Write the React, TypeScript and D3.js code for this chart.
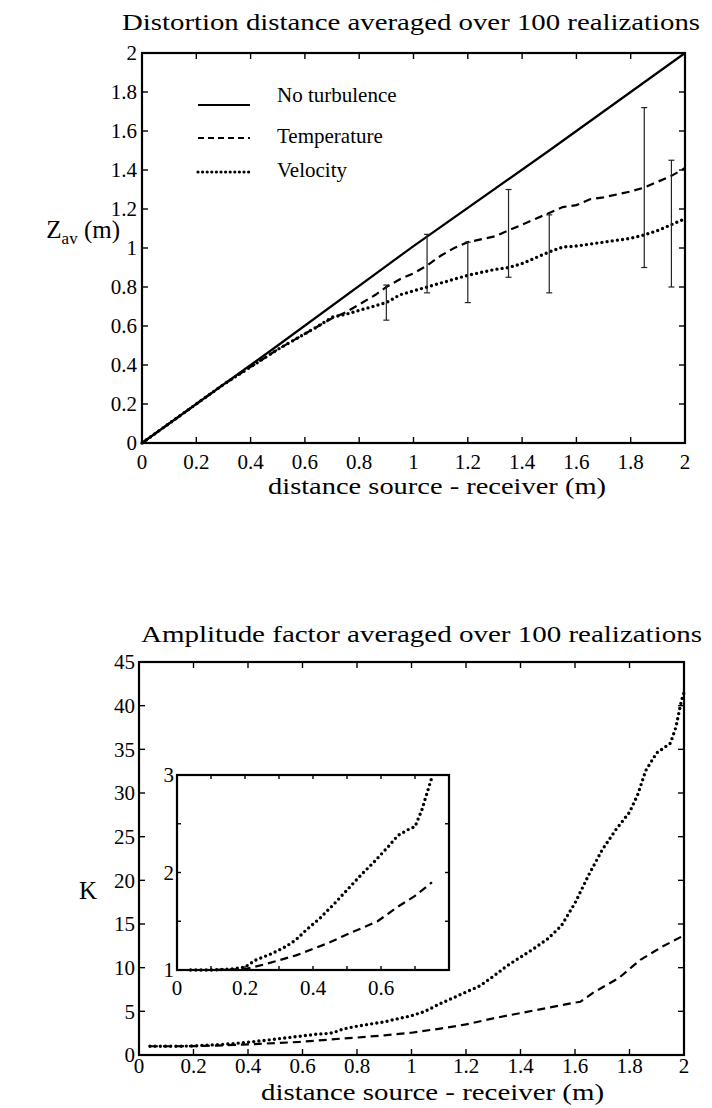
import React from 'react';
import * as d3 from 'd3';

const W = 712;
const H = 1108;
const FONT = 'Liberation Serif, Times New Roman, serif';

// ---- top panel: distortion distance ----
const distTicks = [0, 0.2, 0.4, 0.6, 0.8, 1, 1.2, 1.4, 1.6, 1.8, 2];
const distTickLabels = ['0', '0.2', '0.4', '0.6', '0.8', '1', '1.2', '1.4', '1.6', '1.8', '2'];

const noTurbulence: [number, number][] = [[0, 0], [0.5, 0.5], [1, 1.01], [1.5, 1.5], [2, 2]];
const temperatureDist: [number, number][] = [
  [0, 0], [0.1, 0.1], [0.2, 0.2], [0.3, 0.3], [0.4, 0.39], [0.5, 0.48], [0.6, 0.56], [0.7, 0.64],
  [0.75, 0.67], [0.8, 0.71], [0.86, 0.76], [0.9, 0.8], [0.95, 0.84], [1.0, 0.87], [1.05, 0.91],
  [1.1, 0.96], [1.15, 1.0], [1.2, 1.03], [1.3, 1.06], [1.35, 1.09], [1.4, 1.12], [1.45, 1.15],
  [1.5, 1.18], [1.55, 1.21], [1.6, 1.22], [1.65, 1.25], [1.7, 1.26], [1.8, 1.29], [1.85, 1.31],
  [1.9, 1.34], [1.95, 1.37], [2.0, 1.41],
];
const velocityDist: [number, number][] = [
  [0, 0], [0.1, 0.1], [0.2, 0.2], [0.3, 0.3], [0.4, 0.39], [0.5, 0.48], [0.6, 0.56], [0.65, 0.6],
  [0.7, 0.645], [0.75, 0.66], [0.8, 0.68], [0.85, 0.7], [0.9, 0.72], [0.95, 0.76], [1.0, 0.78],
  [1.05, 0.8], [1.1, 0.82], [1.15, 0.84], [1.2, 0.86], [1.3, 0.89], [1.35, 0.9], [1.4, 0.92],
  [1.45, 0.95], [1.5, 0.98], [1.55, 1.005], [1.6, 1.01], [1.7, 1.03], [1.8, 1.05], [1.85, 1.067],
  [1.9, 1.09], [1.95, 1.12], [2.0, 1.15],
];
const errX = [0.9, 1.05, 1.2, 1.35, 1.5, 1.85, 1.95];
const errLow = [0.63, 0.77, 0.72, 0.85, 0.77, 0.9, 0.8];
const errHigh = [0.81, 1.07, 1.03, 1.3, 1.17, 1.72, 1.45];

// ---- bottom panel: amplitude factor ----
const ampTicksY = [0, 5, 10, 15, 20, 25, 30, 35, 40, 45];
const temperatureAmp: [number, number][] = [
  [0.04, 1], [0.1, 1], [0.2, 1.01], [0.26, 1.06], [0.35, 1.15], [0.44, 1.27], [0.51, 1.38],
  [0.59, 1.5], [0.65, 1.65], [0.7, 1.76], [0.75, 1.9], [0.8, 2.0], [0.9, 2.25], [1.0, 2.55],
  [1.1, 3.0], [1.2, 3.5], [1.3, 4.2], [1.4, 4.8], [1.5, 5.4], [1.6, 6.0], [1.62, 6.1],
  [1.67, 7.2], [1.76, 8.8], [1.84, 10.9], [1.92, 12.4], [2.0, 13.7],
];
const velocityAmp: [number, number][] = [
  [0.04, 1], [0.1, 1], [0.16, 1.01], [0.2, 1.03], [0.23, 1.1], [0.28, 1.17], [0.32, 1.24],
  [0.35, 1.31], [0.38, 1.41], [0.42, 1.53], [0.46, 1.67], [0.5, 1.82], [0.54, 1.97], [0.58, 2.11],
  [0.62, 2.26], [0.65, 2.38], [0.68, 2.44], [0.7, 2.47], [0.72, 2.64], [0.735, 2.81], [0.75, 2.98],
  [0.8, 3.3], [0.9, 3.8], [1.0, 4.5], [1.05, 5.0], [1.1, 5.8], [1.15, 6.5], [1.2, 7.2], [1.25, 7.9],
  [1.3, 9.0], [1.35, 10.2], [1.4, 11.2], [1.45, 12.2], [1.5, 13.3], [1.55, 14.8], [1.6, 17.4],
  [1.65, 20.6], [1.7, 23.5], [1.75, 25.8], [1.8, 27.8], [1.83, 29.8], [1.86, 32.6], [1.9, 34.6],
  [1.95, 35.7], [1.97, 37.5], [1.99, 40.5], [2.0, 41.5],
];
const insetTicksX = [0, 0.1, 0.2, 0.3, 0.4, 0.5, 0.6, 0.7, 0.8];
const insetLabelsX = [0, 0.2, 0.4, 0.6];
const insetTicksY = [1, 1.5, 2, 2.5, 3];
const insetLabelsY = [1, 2, 3];

const TOP = { left: 142, right: 685, top: 53, bottom: 443 };
const BOT = { left: 139, right: 684, top: 662, bottom: 1055 };
const INSET = { left: 177, right: 449, top: 775, bottom: 970 };

const DASH = '8 5';
const DOT = '0 5.2';

type Scale = d3.ScaleLinear<number, number>;

function Frame({ box, x, y, xt, yt, tick }: { box: typeof TOP; x: Scale; y: Scale; xt: number[]; yt: number[]; tick: number }) {
  return (
    <g stroke="#000" strokeWidth={1.4}>
      {xt.map((t, i) => (
        <g key={'x' + i}>
          <line x1={x(t)} x2={x(t)} y1={box.bottom} y2={box.bottom - tick} />
          <line x1={x(t)} x2={x(t)} y1={box.top} y2={box.top + tick} />
        </g>
      ))}
      {yt.map((t, i) => (
        <g key={'y' + i}>
          <line x1={box.left} x2={box.left + tick} y1={y(t)} y2={y(t)} />
          <line x1={box.right} x2={box.right - tick} y1={y(t)} y2={y(t)} />
        </g>
      ))}
      <rect x={box.left} y={box.top} width={box.right - box.left} height={box.bottom - box.top}
        fill="none" strokeWidth={2.2} />
    </g>
  );
}

export default function App() {
  const xD = d3.scaleLinear().domain([0, 2]).range([TOP.left, TOP.right]);
  const yD = d3.scaleLinear().domain([0, 2]).range([TOP.bottom, TOP.top]);
  const xA = d3.scaleLinear().domain([0, 2]).range([BOT.left, BOT.right]);
  const yA = d3.scaleLinear().domain([0, 45]).range([BOT.bottom, BOT.top]);
  const xI = d3.scaleLinear().domain([0, 0.8]).range([INSET.left, INSET.right]);
  const yI = d3.scaleLinear().domain([1, 3]).range([INSET.bottom, INSET.top]);

  const lineD = d3.line<[number, number]>().x(d => xD(d[0])).y(d => yD(d[1]));
  const lineA = d3.line<[number, number]>().x(d => xA(d[0])).y(d => yA(d[1]));
  const lineI = d3.line<[number, number]>().x(d => xI(d[0])).y(d => yI(d[1]));
  const inInset = (d: [number, number]) => d[0] <= 0.75;

  const tickFont = { fontFamily: FONT, fontSize: 21 };

  return (
    <svg width={W} height={H} style={{ display: 'block', position: 'absolute', left: 0, top: 0, background: '#fff' }}>
      <rect width={W} height={H} fill="#fff" />

      {/* ================= TOP PANEL ================= */}
      <text x={122} y={30} textLength={578} lengthAdjust="spacingAndGlyphs" fontFamily={FONT} fontSize={24}>
        Distortion distance averaged over 100 realizations
      </text>

      <g fill="none" stroke="#000">
        <path d={lineD(noTurbulence) || ''} strokeWidth={2.2} />
        <path d={lineD(temperatureDist) || ''} strokeWidth={2.2} strokeDasharray={DASH} />
        <path d={lineD(velocityDist) || ''} strokeWidth={3.4} strokeDasharray={DOT} strokeLinecap="round" />
      </g>

      <g stroke="#222" strokeWidth={1.2}>
        {errX.map((xv, i) => (
          <g key={i}>
            <line x1={xD(xv)} x2={xD(xv)} y1={yD(errLow[i])} y2={yD(errHigh[i])} />
            <line x1={xD(xv) - 3} x2={xD(xv) + 3} y1={yD(errLow[i])} y2={yD(errLow[i])} />
            <line x1={xD(xv) - 3} x2={xD(xv) + 3} y1={yD(errHigh[i])} y2={yD(errHigh[i])} />
          </g>
        ))}
      </g>

      <Frame box={TOP} x={xD} y={yD} xt={distTicks} yt={distTicks} tick={6} />

      {distTicks.map((t, i) => (
        <text key={'dy' + i} x={TOP.left - 5} y={yD(t)} dy="0.35em" textAnchor="end" {...tickFont}>
          {distTickLabels[i]}
        </text>
      ))}
      {distTicks.map((t, i) => (
        <text key={'dx' + i} x={xD(t)} y={TOP.bottom + 26} textAnchor="middle" {...tickFont}>
          {distTickLabels[i]}
        </text>
      ))}

      {/* legend */}
      <g stroke="#000" fill="none">
        <line x1={198} x2={250} y1={105} y2={105} strokeWidth={2.2} />
        <line x1={198} x2={250} y1={138} y2={138} strokeWidth={1.8} strokeDasharray="6 4" />
        <line x1={198} x2={250} y1={172} y2={172} strokeWidth={3.2} strokeDasharray="0 4.6" strokeLinecap="round" />
      </g>
      <g fontFamily={FONT} fontSize={21}>
        <text x={277} y={102}>No turbulence</text>
        <text x={277} y={143}>Temperature</text>
        <text x={277} y={177}>Velocity</text>
      </g>

      <text x={120} y={238} textAnchor="end" fontFamily={FONT} fontSize={25}>
        Z<tspan fontSize={17} dy={6}>av</tspan><tspan dy={-6}> (m)</tspan>
      </text>
      <text x={268} y={494} textLength={338} lengthAdjust="spacingAndGlyphs" fontFamily={FONT} fontSize={23}>
        distance source - receiver (m)
      </text>

      {/* ================= BOTTOM PANEL ================= */}
      <text x={141} y={642} textLength={561} lengthAdjust="spacingAndGlyphs" fontFamily={FONT} fontSize={24}>
        Amplitude factor averaged over 100 realizations
      </text>

      <g fill="none" stroke="#000">
        <path d={lineA(temperatureAmp) || ''} strokeWidth={2.2} strokeDasharray={DASH} />
        <path d={lineA(velocityAmp) || ''} strokeWidth={3.4} strokeDasharray={DOT} strokeLinecap="round" />
      </g>

      <Frame box={BOT} x={xA} y={yA} xt={distTicks} yt={ampTicksY} tick={6} />

      {ampTicksY.map((t, i) => (
        <text key={'ay' + i} x={BOT.left - 4} y={yA(t)} dy="0.35em" textAnchor="end" {...tickFont}>
          {t}
        </text>
      ))}
      {distTicks.map((t, i) => (
        <text key={'ax' + i} x={xA(t)} y={BOT.bottom + 18} textAnchor="middle" {...tickFont}>
          {distTickLabels[i]}
        </text>
      ))}

      {/* inset */}
      <rect x={INSET.left} y={INSET.top} width={INSET.right - INSET.left} height={INSET.bottom - INSET.top} fill="#fff" />
      <g fill="none" stroke="#000">
        <path d={lineI(temperatureAmp.filter(inInset)) || ''} strokeWidth={2.2} strokeDasharray={DASH} />
        <path d={lineI(velocityAmp.filter(inInset)) || ''} strokeWidth={3.4} strokeDasharray={DOT} strokeLinecap="round" />
      </g>
      <Frame box={INSET} x={xI} y={yI} xt={insetTicksX} yt={insetTicksY} tick={4} />
      {insetLabelsY.map((t, i) => (
        <text key={'iy' + i} x={INSET.left - 3} y={yI(t)} dy="0.35em" textAnchor="end" {...tickFont}>
          {t}
        </text>
      ))}
      {insetLabelsX.map((t, i) => (
        <text key={'ix' + i} x={xI(t)} y={INSET.bottom + 25} textAnchor="middle" {...tickFont}>
          {t}
        </text>
      ))}

      <text x={88} y={899} textAnchor="middle" fontFamily={FONT} fontSize={25}>K</text>
      <text x={261} y={1100} textLength={343} lengthAdjust="spacingAndGlyphs" fontFamily={FONT} fontSize={23}>
        distance source - receiver (m)
      </text>
    </svg>
  );
}
